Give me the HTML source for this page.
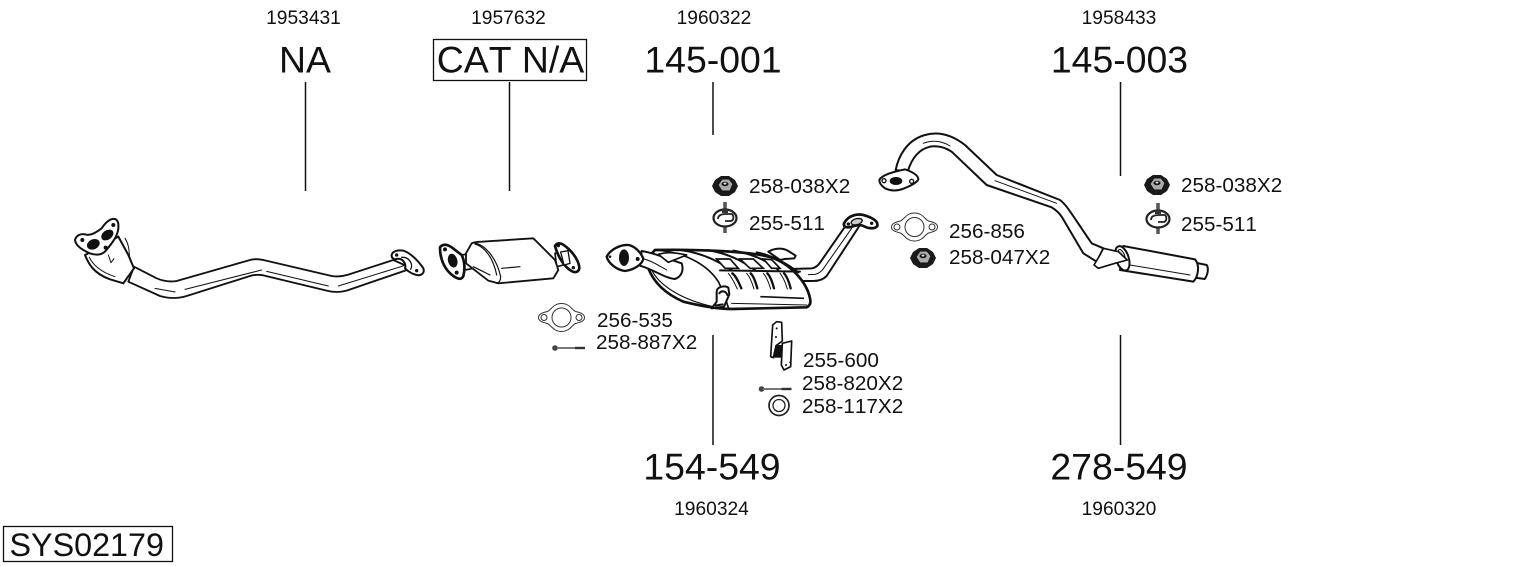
<!DOCTYPE html>
<html><head><meta charset="utf-8"><style>
html,body{margin:0;padding:0;background:#fff}
svg{display:block}
text{font-family:"Liberation Sans",sans-serif;fill:#111;font-kerning:none}
.s{font-size:19.2px;text-anchor:middle}
.b{font-size:37.4px;text-anchor:middle}
.m{font-size:20.7px}
.k{fill:none;stroke:#111;stroke-linejoin:round;stroke-linecap:round}
.w{fill:#fff;stroke:#111;stroke-linejoin:round;stroke-linecap:round}
.d{fill:#111;stroke:none}
</style></head><body>
<svg width="1530" height="566" viewBox="0 0 1530 566" xmlns="http://www.w3.org/2000/svg">
<defs>
<g id="nut"><path d="M-13 0L-10 -6L-4 -10L4 -10L10 -6L13 0L10 6L4 10L-4 10L-10 6Z" fill="#1a1a1a"/><path d="M-7 -1L-3 -7L4 -7L8 -2L5 5L-3 5Z" fill="#aaa" stroke="#111" stroke-width="1"/><ellipse cx="0" cy="-2" rx="3.500" ry="2.200" fill="#111"/><ellipse cx="0" cy="-2.500" rx="1.500" ry="1" fill="#ddd"/></g>
<g id="hang"><path d="M0 -16V-6M0 8V15" stroke="#555" stroke-width="3.500"/>
<ellipse cx="0" cy="0" rx="11.500" ry="8.500" fill="#fff" stroke="#222" stroke-width="2.200"/>
<path d="M-7 1C-7 -3 -3 -4 1 -4L7 -4C9 -2 9 2 6 3L0 3" fill="none" stroke="#222" stroke-width="1.800"/>
<path d="M-3 -9H3V-5H-3Z" fill="#333"/></g>
<g id="gask"><path fill="#fff" stroke="#333" stroke-width="1" d="M-23 0C-23 -4 -18 -5 -14 -6C-10 -8 -8 -14 0 -14C8 -14 10 -8 14 -6C18 -5 23 -4 23 0C23 4 18 5 14 6C10 8 8 14 0 14C-8 14 -10 8 -14 6C-18 5 -23 4 -23 0Z"/><circle r="9.500" fill="#fff" stroke="#333" stroke-width="1"/><circle cx="-17.500" r="3" fill="#fff" stroke="#333" stroke-width="1"/><circle cx="17.500" r="3" fill="#fff" stroke="#333" stroke-width="1"/></g>
<g id="bolt"><circle r="2.800" fill="#444"/><path d="M2 0H20" stroke="#777" stroke-width="2"/><path d="M20 0H30" stroke="#333" stroke-width="2.400"/></g>
</defs>

<text class="s" x="303.500" y="24">1953431</text>
<text class="s" x="508.500" y="24">1957632</text>
<text class="s" x="714" y="24">1960322</text>
<text class="s" x="1119" y="24">1958433</text>
<text class="b" x="305" y="72.500">NA</text>
<rect x="433.500" y="39.500" width="153" height="41" fill="none" stroke="#111" stroke-width="1.300"/>
<text class="b" x="510.500" y="72.500">CAT N/A</text>
<text class="b" x="713" y="72.500">145-001</text>
<text class="b" x="1119.500" y="72.500">145-003</text>
<text class="b" x="712" y="479.500">154-549</text>
<text class="b" x="1119" y="479.500">278-549</text>
<text class="s" x="711.500" y="515">1960324</text>
<text class="s" x="1119" y="515">1960320</text>
<rect x="3.500" y="526.500" width="169" height="35" fill="none" stroke="#111" stroke-width="1.300"/>
<text x="9.500" y="556" style="font-size:32.3px">SYS02179</text>

<g stroke="#111" stroke-width="1.500">
<path d="M305.500 82V191M509.500 82V191M713 82V135M713 335V445M1120.500 82V176M1120.500 335V445"/>
</g>

<!-- Pipe 1 -->
<g transform="translate(60 200) scale(.33333)">
<path class="w" stroke-width="5.500" d="M222 200L290 235Q320 248 350 243L570 180Q590 175 610 180L815 228Q840 232 865 224L1000 180L1055 205L860 272Q830 280 800 272L610 226Q590 222 570 228L380 288Q340 300 300 288L205 245Z"/>
<path class="k" stroke-width="3" d="M285 265L345 276M375 268L605 210M620 214L805 258M835 258L1045 193"/>
<path class="w" stroke-width="6" d="M75 165C85 190 100 220 150 238L190 250L222 205L205 165L175 110Z"/>
<path class="k" stroke-width="3" d="M88 172C100 195 120 215 165 230M195 115C212 140 205 170 212 185M145 165L153 188L162 176"/>
<path class="w" stroke-width="6" d="M45 120C48 108 60 100 75 103C90 108 105 100 125 85C135 70 150 55 165 57C175 60 177 75 174 92C170 110 160 125 135 155C120 168 100 165 85 158C70 150 48 140 45 120Z"/>
<ellipse cx="100" cy="133" rx="20" ry="15" class="d" transform="rotate(-25 100 133)"/>
<ellipse cx="142" cy="105" rx="20" ry="14" class="d" transform="rotate(-35 142 105)"/>
<circle cx="67" cy="120" r="6" class="d"/><circle cx="160" cy="75" r="6" class="d"/><circle cx="137" cy="143" r="6" class="d"/>
<path class="w" stroke-width="6" d="M995 165C998 152 1015 150 1030 152C1045 156 1070 175 1090 205C1095 218 1085 228 1070 225C1055 222 1042 212 1035 205C1040 195 1030 170 1005 178C998 176 994 172 995 165Z"/>
<path class="k" stroke-width="4" d="M1025 172C1050 170 1060 195 1052 208"/>
<circle cx="1010" cy="165" r="5" class="d"/><circle cx="1070" cy="212" r="5" class="d"/>
</g>

<!-- Catalyst -->
<g transform="translate(430 220) scale(.33333)">
<path class="w" stroke-width="5" d="M375 100L395 92L415 92L420 130L400 135L380 140Z"/>
<path class="w" stroke-width="5" d="M95 105L125 100L130 145L105 150Z"/>
<path class="w" stroke-width="5.500" d="M108 100L125 70Q135 65 155 65L310 55L375 120L385 150L370 175L205 190L175 182L108 130Z"/>
<path class="k" stroke-width="3.500" d="M130 68C165 72 200 115 212 170C212 182 208 188 200 190M135 72C165 80 190 115 200 165M215 145L270 140M130 140L180 165"/>
<path class="w" stroke-width="8" d="M30 82C38 72 50 72 65 82L95 105C105 125 105 150 100 168C95 180 85 178 70 168C45 150 30 120 30 82Z"/>
<ellipse cx="68" cy="122" rx="14" ry="21" class="d" transform="rotate(-15 68 122)"/>
<circle cx="45" cy="88" r="6" class="d"/><circle cx="80" cy="158" r="6" class="d"/>
<path class="w" stroke-width="8" d="M375 78C382 66 395 68 410 82C430 98 448 125 448 145C445 160 430 158 420 150C405 140 385 115 375 78Z"/>
<path d="M392 96L414 92L420 130L402 135Z" fill="#fff" stroke="#111" stroke-width="4"/>
<circle cx="385" cy="77" r="5" class="d"/><circle cx="430" cy="143" r="5" class="d"/>
</g>

<use href="#gask" x="561.500" y="317.500"/>
<use href="#bolt" x="555" y="348"/>

<!-- Middle rear pipe -->
<g transform="translate(600 170) scale(.33333)">
<path class="w" stroke-width="6" d="M570 297L635 295Q650 293 660 278L735 170L780 165L680 318Q665 333 640 333L590 333Z"/>
<path class="k" stroke-width="3" d="M625 314L645 313Q660 310 670 296L755 175"/>
<path class="w" stroke-width="8" d="M732 160C745 135 775 128 800 138C820 145 835 155 832 168C825 178 805 176 790 168C775 160 755 172 745 172C735 172 730 168 732 160Z"/>
<ellipse cx="770" cy="155" rx="17" ry="9" fill="#ccc" stroke="#111" stroke-width="4" transform="rotate(-15 770 155)"/>
<circle cx="745" cy="162" r="5" class="d"/><circle cx="815" cy="160" r="5" class="d"/>
</g>

<!-- Silencer (zoom coords at 600,235) -->
<g transform="translate(600 235) scale(.33333)">
<path class="w" stroke-width="6" d="M505 50C525 38 550 38 565 48L587 62L583 70L555 72L540 75Z"/>
<path class="w" stroke-width="8" d="M165 45C300 42 450 50 510 66C570 85 620 140 630 190Q635 210 620 217L395 222Q340 222 250 200Q170 165 145 100Q140 70 165 45Z"/>
<path class="k" stroke-width="3.500" d="M155 105C180 155 250 195 340 215"/>
<path class="k" stroke-width="5" d="M170 45C250 52 320 85 355 140C368 165 378 195 385 218"/>
<path class="k" stroke-width="6" d="M240 45C300 52 350 75 395 105M320 45C370 52 420 72 465 105M400 47C450 55 500 75 535 105M470 52C520 62 565 88 595 112"/>
<path fill="#fff" stroke="#111" stroke-width="5" d="M350 72L390 72L415 100L375 100Z"/>
<path fill="#fff" stroke="#111" stroke-width="5" d="M420 72L460 72L490 100L450 100Z"/>
<path fill="#fff" stroke="#111" stroke-width="5" d="M490 72L515 74L540 100L515 100Z"/>
<path class="k" stroke-width="6" d="M360 106L600 110"/>
<path class="k" stroke-width="7" d="M397 115C410 125 417 145 424 160M452 115C462 125 468 145 472 160M502 115C512 125 518 145 522 160M552 115C562 125 568 145 572 160"/>
<path class="k" stroke-width="3" d="M385 115C398 130 406 150 412 162M440 115C453 130 458 150 462 162M490 115C503 130 508 150 512 162M540 115C553 130 558 150 562 162"/>
<path class="k" stroke-width="5" d="M483 185L610 190"/>
<path class="k" stroke-width="3" d="M395 205L620 210"/>
<path class="w" stroke-width="6" d="M350 170C350 155 375 150 385 158L388 178L372 215L335 220L350 200Z"/>
<path class="k" stroke-width="6" d="M358 175C365 165 378 168 382 180M345 212L368 208"/>
<!-- inlet -->
<path class="w" stroke-width="6" d="M125 48C170 55 210 75 245 85C252 105 245 125 225 132C195 130 165 105 120 92Z"/>
<path class="w" stroke-width="5" d="M175 58C195 52 215 50 260 60L205 82Z"/>
<path class="k" stroke-width="3" d="M125 70C150 75 170 88 200 105"/>
<path class="w" stroke-width="7" d="M20 65C30 45 60 28 85 30C105 33 125 55 130 72C125 90 100 105 75 108C50 105 25 85 20 65Z"/>
<ellipse cx="72" cy="68" rx="15" ry="25" class="d"/>
<circle cx="113" cy="72" r="6" class="d"/><circle cx="30" cy="65" r="4" class="d"/>
</g>

<!-- Right pipe (zoom coords at 870,120) -->
<g transform="translate(870 120) scale(.33333)">
<path class="w" stroke-width="6" d="M77 150C85 110 110 60 165 45C200 35 240 40 285 75L380 165L570 240C590 255 600 275 665 370L700 385L680 425L640 400L575 290C565 275 555 268 545 262L350 195L245 95C225 82 205 76 180 80C145 88 125 115 113 155Z"/>
<path class="k" stroke-width="3" d="M160 70C185 60 215 62 240 78M375 182L560 250"/>
<path class="w" stroke-width="6" d="M28 180C35 165 70 155 105 148C125 155 145 165 145 178C140 190 115 200 100 206C80 214 60 212 45 205C35 198 28 190 28 180Z"/>
<ellipse cx="78" cy="183" rx="19" ry="12" class="d"/>
<circle cx="42" cy="182" r="6" fill="#fff" stroke="#111" stroke-width="4"/><circle cx="125" cy="184" r="6" fill="#fff" stroke="#111" stroke-width="4"/>
<!-- rear silencer -->
<path class="w" stroke-width="6" d="M975 428L1010 435C1017 445 1013 465 1004 477L970 472Z"/>
<path class="w" stroke-width="6" d="M760 378L975 418C990 435 985 470 970 485L750 450Z"/>
<path class="k" stroke-width="3" d="M780 435L960 465"/>
<ellipse cx="757" cy="415" rx="19" ry="38" class="w" stroke-width="6" transform="rotate(-18 757 415)"/>
<ellipse cx="755" cy="405" rx="8" ry="18" fill="#ddd" stroke="#111" stroke-width="3" transform="rotate(-25 755 405)"/>
<path class="w" stroke-width="5" d="M700 385L745 395L772 420L735 430L685 445L672 435L690 405Z"/>
</g>

<use href="#gask" x="914.500" y="227"/>
<use href="#nut" x="923" y="258"/>
<use href="#nut" x="725" y="186"/>
<use href="#hang" x="725" y="218"/>
<use href="#nut" x="1157" y="185"/>
<use href="#hang" x="1158" y="219"/>

<!-- Clamp 255-600 (zoom coords 750,315) -->
<g transform="translate(750 315) scale(.33333)">
<rect x="70" y="90" width="30" height="38" class="d"/>
<path class="w" stroke-width="5" d="M68 30L80 20L95 22L97 78L78 92L70 128L62 125Z"/>
<path class="w" stroke-width="5" d="M97 85L125 78L122 155L102 165L94 150Z"/>
<circle cx="80" cy="40" r="3" class="d"/><circle cx="78" cy="66" r="3" class="d"/><circle cx="108" cy="150" r="3" class="d"/><circle cx="120" cy="142" r="2.500" class="d"/>
</g>
<use href="#bolt" x="761.500" y="389"/>
<circle cx="779" cy="405.500" r="10" fill="none" stroke="#222" stroke-width="1.700"/>
<circle cx="779" cy="405.500" r="6" fill="none" stroke="#222" stroke-width="1.300"/>

<!-- Labels -->
<text class="m" x="749" y="193">258-038X2</text>
<text class="m" x="749" y="230">255-511</text>
<text class="m" x="1181" y="192">258-038X2</text>
<text class="m" x="1181" y="231">255-511</text>
<text class="m" x="949" y="238">256-856</text>
<text class="m" x="949" y="264">258-047X2</text>
<text class="m" x="597" y="327">256-535</text>
<text class="m" x="596" y="349">258-887X2</text>
<text class="m" x="803" y="367">255-600</text>
<text class="m" x="802" y="390">258-820X2</text>
<text class="m" x="802" y="413">258-117X2</text>
</svg>
</body></html>
